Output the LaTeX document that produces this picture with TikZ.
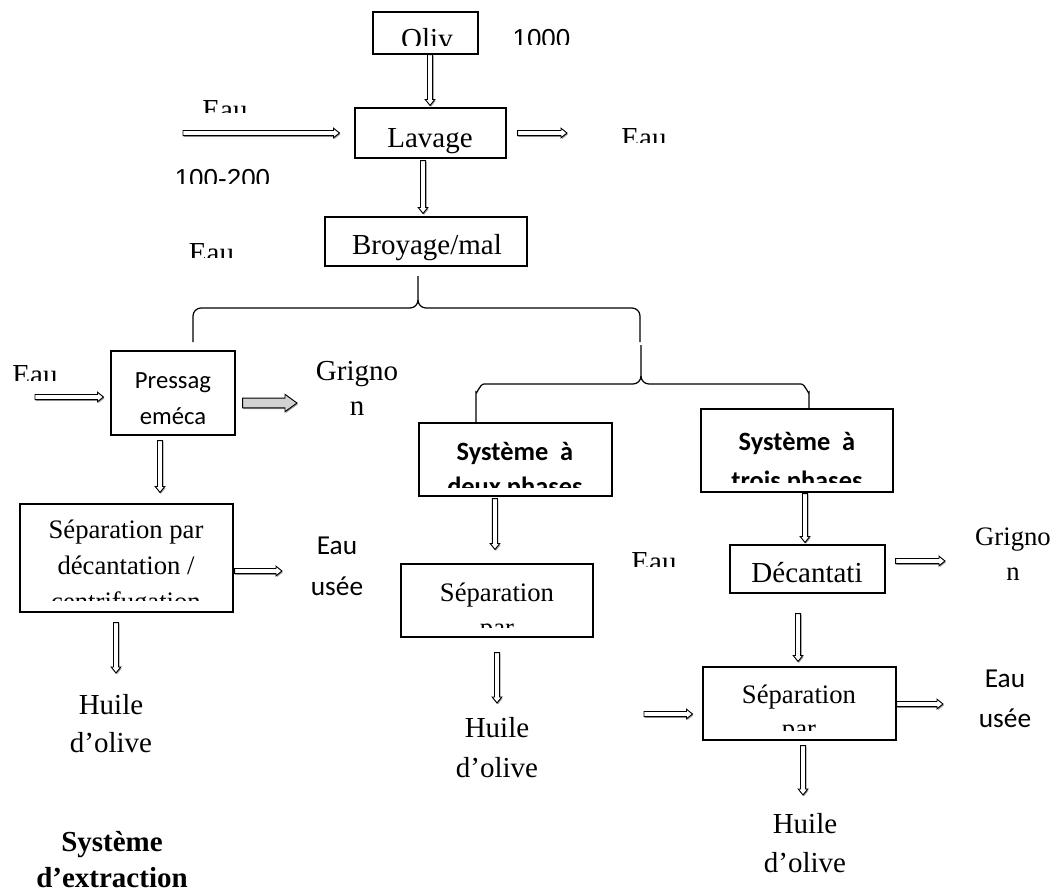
\documentclass[tikz,border=0pt]{standalone}
\usepackage{fontspec}
\setmainfont{Liberation Serif}
\newfontfamily\carl{Carlito}
\newfontfamily\arialf{Liberation Sans}
\usetikzlibrary{calc,shadows}
\newcommand\fsL{\fontsize{21.75}{26}\selectfont}
\newcommand\fsM{\fontsize{20}{24}\selectfont}
\newcommand\fsP{\carl\fontsize{18.5}{22}\selectfont}
\newcommand\fsE{\carl\fontsize{20.5}{24}\selectfont}
\newcommand\fsS{\carl\bfseries\fontsize{19.8}{24}\selectfont}
\newcommand\fsA{\arialf\fontsize{19.5}{23}\selectfont}
\newcommand\fsB{\bfseries\fontsize{21.75}{26}\selectfont}
\tikzset{
  box/.style={draw, line width=0.8pt, inner sep=0pt},
  wh/.style 2 args={minimum width=#1*0.75pt, minimum height=#2*0.75pt},
  txt/.style={inner sep=0pt, anchor=base},
  shade/.style={drop shadow={shadow xshift=0.7pt, shadow yshift=-1pt, fill=gray!75, opacity=1}},
  hflow/.style={draw=black, line width=0.7pt, fill=white, shade,
    to path={let \p1=(\tikztostart), \p2=(\tikztotarget) in
      (\x1,\y1+1.9pt) -- (\x2-4.5pt,\y1+1.9pt) -- (\x2-4.5pt,\y1+3.6pt) -- (\x2,\y1)
      -- (\x2-4.5pt,\y1-3.6pt) -- (\x2-4.5pt,\y1-1.9pt) -- (\x1,\y1-1.9pt) -- cycle}},
  vflow/.style={draw=black, line width=0.7pt, fill=white, shade,
    to path={let \p1=(\tikztostart), \p2=(\tikztotarget) in
      (\x1-1.9pt,\y1) -- (\x1-1.9pt,\y2+4.5pt) -- (\x1-3.6pt,\y2+4.5pt) -- (\x1,\y2)
      -- (\x1+3.6pt,\y2+4.5pt) -- (\x1+1.9pt,\y2+4.5pt) -- (\x1+1.9pt,\y1) -- cycle}},
  fatflow/.style={draw=black, line width=0.7pt, fill=gray!35, shade,
    to path={let \p1=(\tikztostart), \p2=(\tikztotarget) in
      (\x1,\y1+3.6pt) -- (\x2-9pt,\y1+3.6pt) -- (\x2-9pt,\y1+6.5pt) -- (\x2,\y1)
      -- (\x2-9pt,\y1-6.5pt) -- (\x2-9pt,\y1-3.6pt) -- (\x1,\y1-3.6pt) -- cycle}},
  brace/.style={line width=0.9pt}
}
\begin{document}
\begin{tikzpicture}[x=0.75pt,y=-0.75pt]
\useasboundingbox (0,0) rectangle (1061,893);
% boxes
\node[box, wh={105}{42}] (oliv) at (425.5,33) {};
\node[box, wh={151}{50}] (lavage) at (430.5,133) {};
\node[box, wh={202}{49}] (broyage) at (426,241.5) {};
\node[box, wh={124}{84}] (pressage) at (173,393) {};
\node[box, wh={213}{108}] (sep1) at (126.5,558) {};
\node[box, wh={193}{73}] (deux) at (515.5,459.5) {};
\node[box, wh={192}{83}] (trois) at (797,450.5) {};
\node[box, wh={192}{73}] (sep2) at (497,600.5) {};
\node[box, wh={155}{48}] (decant) at (807.5,569) {};
\node[box, wh={193}{73}] (sep3) at (799.5,703.5) {};
% texts
\begin{scope}\clip (373,12) rectangle (478,45);
\node[txt, font=\fsL] (olivt) at (427,48) {Oliv};\end{scope}
\begin{scope}\clip (495,15) rectangle (590,44);
\node[txt, font=\fsA] (t1000) at (541.5,47) {1000};\end{scope}
\begin{scope}\clip (190,90) rectangle (260,112);
\node[txt, font=\fsL] (eauA) at (225,119) {Eau};\end{scope}
\node[txt, font=\fsL] (lavaget) at (430,147) {Lavage};
\begin{scope}\clip (610,120) rectangle (680,142);
\node[txt, font=\fsL] (eauB) at (644,147) {Eau};\end{scope}
\begin{scope}\clip (160,160) rectangle (290,183);
\node[txt, font=\fsA] (t100) at (222.5,187) {100-200};\end{scope}
\begin{scope}\clip (326,218) rectangle (526,262);
\node[txt, font=\fsL] (broyt) at (427,254) {Broyage/mal};\end{scope}
\begin{scope}\clip (180,235) rectangle (245,257);
\node[txt, font=\fsL] (eauC) at (211.5,262) {Eau};\end{scope}
\begin{scope}\clip (5,355) rectangle (70,380);
\node[txt, font=\fsL] (eauD) at (35,384) {Eau};\end{scope}
\node[txt, font=\fsP] (pr1) at (173,388) {Pressag};
\node[txt, font=\fsP] (pr2) at (173,424) {eméca};
\node[txt, font=\fsL] (gr1) at (357,380) {Grigno};
\node[txt, font=\fsL] (gr2) at (357,415) {n};
\node[txt, font=\fsM] (s1a) at (126,538) {Séparation par};
\node[txt, font=\fsM] (s1b) at (126,574) {décantation /};
\begin{scope}\clip (21,505) rectangle (232,600);
\node[txt, font=\fsM] (s1c) at (126,610) {centrifugation};\end{scope}
\node[txt, font=\fsE] (eu1) at (337,554) {Eau};
\node[txt, font=\fsE] (eu2) at (337,595) {usée};
\node[txt, font=\fsL] (h1a) at (111,714) {Huile};
\node[txt, font=\fsL] (h1b) at (111,752) {d’olive};
\node[txt, font=\fsB] (ti1) at (112,851) {Système};
\node[txt, font=\fsB] (ti2) at (112,887) {d’extraction};
\node[txt, font=\fsS] (d1) at (515,460) {Système\ \ à};
\begin{scope}\clip (420,424) rectangle (611,487);
\node[txt, font=\fsS] (d2) at (515,495) {deux phases};\end{scope}
\node[txt, font=\fsS] (tr1) at (797,450) {Système\ \ à};
\begin{scope}\clip (702,410) rectangle (892,482);
\node[txt, font=\fsS] (tr2) at (797,489) {trois phases};\end{scope}
\node[txt, font=\fsM] (s2a) at (497,601) {Séparation};
\begin{scope}\clip (402,565) rectangle (592,627);
\node[txt, font=\fsM] (s2b) at (497,636) {par};\end{scope}
\begin{scope}\clip (620,540) rectangle (690,566);
\node[txt, font=\fsL] (eauE) at (654,571) {Eau};\end{scope}
\node[txt, font=\fsL] (dect) at (807,582) {Décantati};
\node[txt, font=\fsM] (gr3) at (1013,545) {Grigno};
\node[txt, font=\fsM] (gr4) at (1013,580) {n};
\node[txt, font=\fsE] (eu3) at (1005,687) {Eau};
\node[txt, font=\fsE] (eu4) at (1005,727) {usée};
\node[txt, font=\fsM] (s3a) at (799,703) {Séparation};
\begin{scope}\clip (704,668) rectangle (895,730);
\node[txt, font=\fsM] (s3b) at (799,737) {par};\end{scope}
\node[txt, font=\fsL] (h2a) at (497,737) {Huile};
\node[txt, font=\fsL] (h2b) at (497,777) {d’olive};
\node[txt, font=\fsL] (h3a) at (805,833) {Huile};
\node[txt, font=\fsL] (h3b) at (805,872) {d’olive};
% braces
\draw[brace] (193,342) -- (193,316) to[out=90,in=180] (201,308) -- (410,308) to[out=0,in=-90] (418,300) -- (418,276);
\draw[brace] (418,300) to[out=-90,in=180] (426,308) -- (632,308) to[out=0,in=90] (640,316) -- (640,342);
\draw[brace] (641,345) -- (641,376) to[out=-90,in=0] (633,384) -- (484,384) to[out=180,in=-90] (476,392) -- (476,423);
\draw[brace] (641,376) to[out=-90,in=180] (649,384) -- (801,384) to[out=0,in=-90] (809,392) -- (809,409);
% free ends
\coordinate (eauin) at (183,133);
\coordinate (eauout) at (567,133);
\coordinate (eaupin) at (35,397);
\coordinate (grout) at (297,403);
\coordinate (eu1in) at (282,571);
\coordinate (h1in) at (116,673);
\coordinate (h2in) at (497,703);
\coordinate (gr3in) at (945,561);
\coordinate (s3src) at (644,714);
\coordinate (eu3in) at (943,704);
\coordinate (h3in) at (803,795);
% arrow start points on boxes
\coordinate (a1) at ([xshift=3.4pt]oliv.south);
\coordinate (c1) at ([xshift=-5.6pt,yshift=-1.5pt]lavage.south);
\coordinate (c2) at ([xshift=-9.75pt,yshift=-3.75pt]pressage.south);
\coordinate (c3) at ([xshift=-15.4pt,yshift=-1.5pt]deux.south);
\coordinate (c4) at ([xshift=6pt,yshift=-0.75pt]trois.south);
\coordinate (c5) at ([xshift=-7.1pt,yshift=-15pt]decant.south);
% arrows
\draw[vflow] (a1) to ([yshift=1.5pt]a1 |- lavage.north);
\draw[hflow] (eauin) to ([xshift=-11.25pt]eauin -| lavage.west);
\draw[hflow] ([xshift=8.25pt]eauout -| lavage.east) to (eauout);
\draw[vflow] (c1) to ([yshift=2.25pt]c1 |- broyage.north);
\draw[hflow] (eaupin) to ([xshift=-5.25pt]eaupin -| pressage.west);
\draw[fatflow] ([xshift=5.25pt]grout -| pressage.east) to (grout);
\draw[vflow] (c2) to ([yshift=8.25pt]c2 |- sep1.north);
\draw[hflow] ([xshift=0.75pt]eu1in -| sep1.east) to (eu1in);
\draw[vflow] ([yshift=-7.5pt]h1in |- sep1.south) to (h1in);
\draw[vflow] (c3) to ([yshift=10.5pt]c3 |- sep2.north);
\draw[vflow] ([yshift=-11.25pt]h2in |- sep2.south) to (h2in);
\draw[vflow] (c4) to ([yshift=1.5pt]c4 |- decant.north);
\draw[hflow] ([xshift=7.5pt]gr3in -| decant.east) to (gr3in);
\draw[vflow] (c5) to ([yshift=3.75pt]c5 |- sep3.north);
\draw[hflow] (s3src) to ([xshift=-7.5pt]s3src -| sep3.west);
\draw[hflow] (eu3in -| sep3.east) to (eu3in);
\draw[vflow] ([yshift=-3.75pt]h3in |- sep3.south) to (h3in);
\end{tikzpicture}
\end{document}
